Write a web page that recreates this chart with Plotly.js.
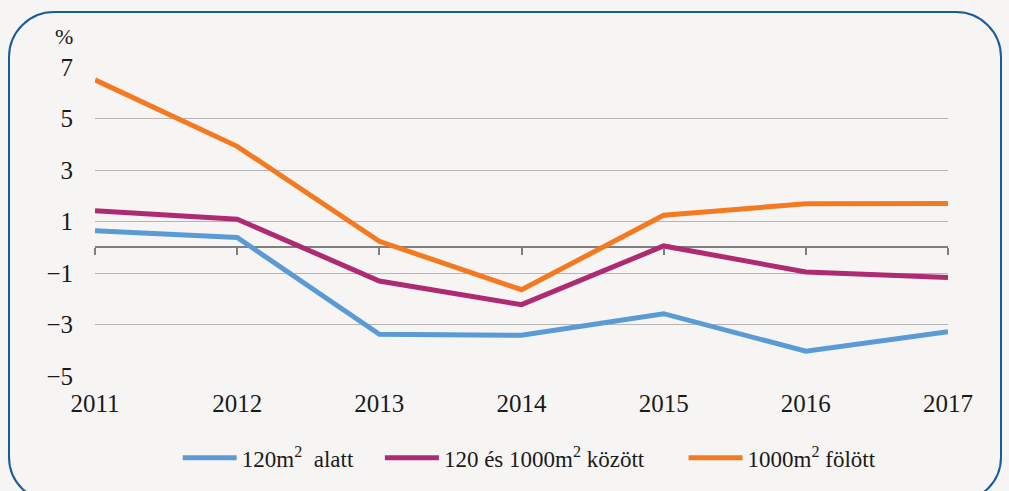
<!DOCTYPE html>
<html>
<head>
<meta charset="utf-8">
<script src="https://cdn.plot.ly/plotly-3.0.1.min.js"></script>
<style>
  html, body { margin: 0; padding: 0; width: 1009px; height: 491px; overflow: hidden; background: #f7f5f3; }
  #frame { position: absolute; left: 8px; top: 11px; width: 994px; height: 492px; border: 2.5px solid #1a5c9a; border-radius: 46px; box-sizing: border-box; }
  #chart { position: absolute; left: 0; top: 0; width: 1009px; height: 491px; }
</style>
</head>
<body>
<div id="frame"></div>
<div id="chart"></div>
<script>
const years = [2011, 2012, 2013, 2014, 2015, 2016, 2017];
const seriesNames = ["120m<sup>2</sup>  alatt", "120 és 1000m<sup>2</sup> között", "1000m<sup>2</sup> fölött"];
const small = [0.64, 0.38, -3.38, -3.42, -2.58, -4.04, -3.28];
const medium = [1.42, 1.09, -1.31, -2.23, 0.05, -0.96, -1.17];
const large = [6.5, 3.92, 0.23, -1.65, 1.24, 1.69, 1.7];
const colors = ["#5b9bd5", "#ae2a73", "#f47a22"];
const yTicks = [-5, -3, -1, 1, 3, 5, 7];
const unitLabel = "%";

const font = "'Liberation Serif', 'Times New Roman', Times, serif";
const legendIds = ["legend", "legend2", "legend3"];
const legendX = [0.097, 0.334, 0.690];

const traces = [small, medium, large].map((vals, i) => ({
  x: years, y: vals, name: seriesNames[i], type: "scatter", mode: "lines", legend: legendIds[i],
  line: { color: colors[i], width: 5 }, cliponaxis: false, hoverinfo: "skip"
}));
// helper trace to draw the category ticks on the zero line
traces.push({ x: years, y: years.map(() => 0), xaxis: "x2", yaxis: "y", type: "scatter", mode: "lines",
  line: { width: 0, color: "rgba(0,0,0,0)" }, showlegend: false, hoverinfo: "skip" });

const layout = {
  width: 1009, height: 491,
  margin: { l: 95, r: 61, t: 67, b: 111 },
  paper_bgcolor: "rgba(0,0,0,0)", plot_bgcolor: "rgba(0,0,0,0)",
  font: { family: font, size: 24, color: "#1a1a1a" },
  showlegend: true,
  xaxis: { range: [2011, 2017], tickvals: years, ticktext: years.map(String), showgrid: false, zeroline: false,
    showline: false, ticks: "", ticklabelstandoff: 10, tickfont: { family: font, size: 25, color: "#1a1a1a" } },
  xaxis2: { overlaying: "x", anchor: "free", position: 5 / 12, range: [2011, 2017], tickvals: years,
    showticklabels: false, showgrid: false, zeroline: false, showline: false,
    ticks: "outside", ticklen: 7, tickwidth: 2, tickcolor: "#7f7f7f" },
  yaxis: { range: [-5, 7], tickvals: yTicks, showgrid: true, gridcolor: "#b5b5b5", gridwidth: 1,
    zeroline: true, zerolinecolor: "#7f7f7f", zerolinewidth: 2, showline: false, ticks: "",
    ticklabelstandoff: 21, tickfont: { family: font, size: 25, color: "#1a1a1a" } },
  annotations: [{ text: unitLabel, xref: "paper", yref: "paper", x: -0.036, y: 1.1, yanchor: "middle", xanchor: "center",
    showarrow: false, font: { family: font, size: 22, color: "#1a1a1a" } }]
};
legendIds.forEach((id, i) => {
  layout[id] = { orientation: "h", x: legendX[i], xanchor: "left", y: -0.265, yanchor: "middle", itemwidth: 54,
    font: { family: font, size: 23, color: "#1a1a1a" }, bgcolor: "rgba(0,0,0,0)" };
});

Plotly.newPlot("chart", traces, layout, { staticPlot: true, displayModeBar: false });
</script>
</body>
</html>
